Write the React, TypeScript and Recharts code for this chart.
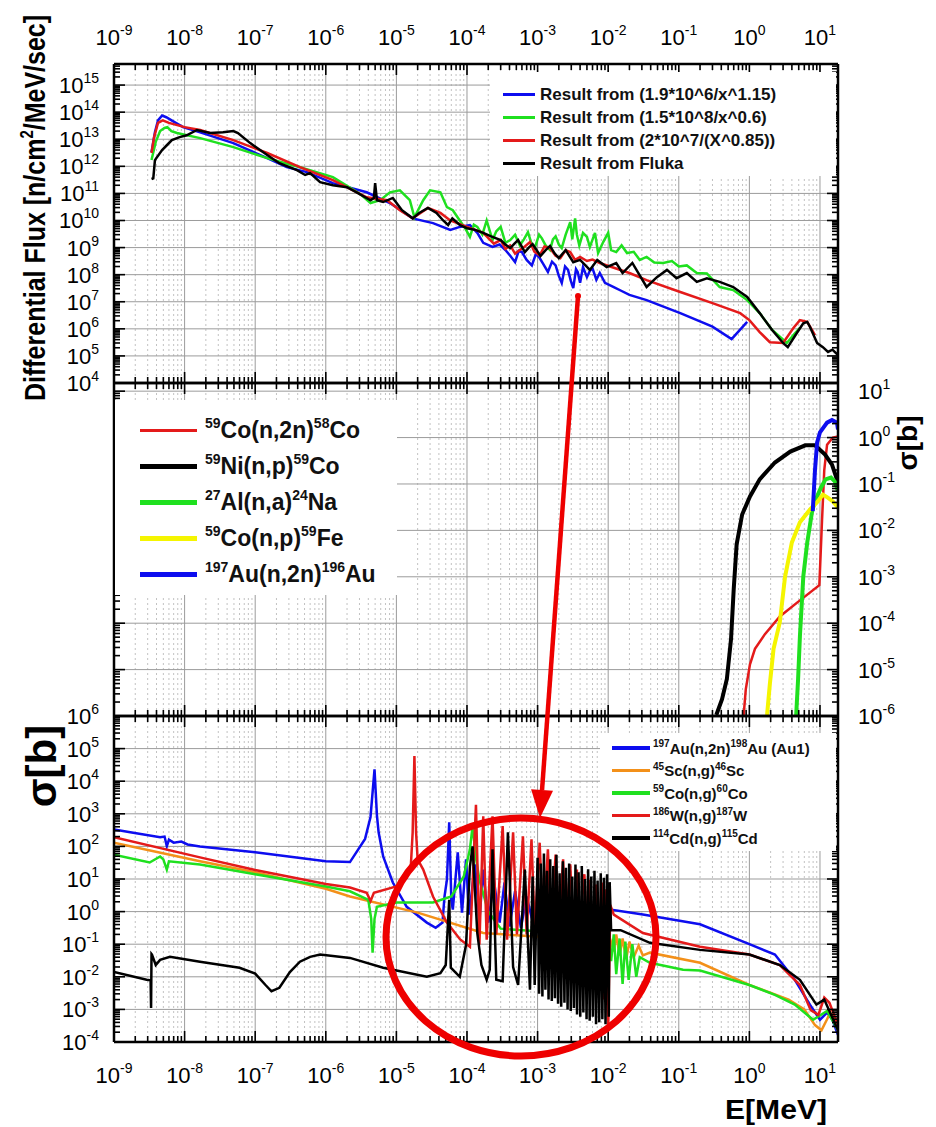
import React from 'react'
import { LineChart, Line, XAxis, YAxis, CartesianGrid, Legend } from 'recharts'

type Pt = [number, number]
type Side = 'top' | 'bottom' | 'left' | 'right'
type Part = [string, string] // [superscript, text]

const FONT = '"Liberation Sans", Arial, Helvetica, sans-serif'
const BLUE = '#0d0def'
const GREEN = '#1fe01f'
const RED = '#e41a1a'
const BLACK = '#000000'
const YELLOW = '#f5f500'
const ORANGE = '#f39019'

// energy axis [MeV], shared by the three panels
const E_RANGE: [number, number] = [1e-9, 18]
const E_EXP: [number, number] = [-9, 1]

// ---- differential flux [n/cm2/MeV/sec]
const FLUX_RANGE: [number, number] = [1e4, 6e15]
const FLUX_EXP: [number, number] = [4, 15]

const fluxBlue: Pt[] = [
  [3.4e-9, 3.3e12], [3.8e-9, 1.8e13], [4.2e-9, 5e13], [4.8e-9, 7.5e13], [5.5e-9, 6.5e13],
  [7e-9, 4.5e13], [9.5e-9, 2.8e13], [1.66e-8, 1.8e13], [4.9e-8, 7.2e12], [1.48e-7, 2e12],
  [2.8e-7, 9.3e11], [5.4e-7, 6.1e11], [1.26e-6, 2.4e11], [3.8e-6, 1.1e11], [8.1e-6, 4.4e10],
  [1.7e-5, 1.2e10], [3.3e-5, 8e9], [5.8e-5, 4.5e9], [7.9e-5, 5.8e9], [1.1e-4, 6.8e9],
  [1.4e-4, 3.5e9], [1.7e-4, 1.5e9], [2.3e-4, 1.05e9], [2.9e-4, 1.3e9], [3.5e-4, 8.1e8],
  [4.1e-4, 5e8], [4.8e-4, 2.9e8], [5.4e-4, 7.5e8], [6e-4, 6.8e8], [7e-4, 3.5e8],
  [8.3e-4, 2.2e8], [9.5e-4, 6e8], [1.07e-3, 4.1e8], [1.2e-3, 2.5e8], [1.4e-3, 1.26e8],
  [1.6e-3, 3e8], [1.8e-3, 2.2e8], [2e-3, 9e7], [2.2e-3, 4.9e7], [2.45e-3, 2e8],
  [2.7e-3, 1.5e8], [2.95e-3, 6e7], [3.2e-3, 3.2e7], [3.5e-3, 1.6e8], [3.7e-3, 1.26e8],
  [4e-3, 5e7], [4.4e-3, 1.9e8], [5e-3, 8.1e7], [5.5e-3, 1.4e8], [6e-3, 1.7e8],
  [6.8e-3, 6.5e7], [7.6e-3, 1.15e8], [9e-3, 5e7], [1.2e-2, 3.5e7], [1.5e-2, 2.6e7],
  [2e-2, 1.8e7], [3.5e-2, 1.15e7], [0.105, 3.8e6], [0.3, 1.2e6], [0.56, 4.2e5], [0.93, 1.8e6],
]

const fluxGreen: Pt[] = [
  [3.4e-9, 1.7e12], [3.9e-9, 8e12], [4.5e-9, 2e13], [5.2e-9, 2.6e13], [5.7e-9, 2.8e13],
  [6.5e-9, 2e13], [7.8e-9, 1.7e13], [1.66e-8, 1.1e13], [4.9e-8, 5.1e12], [1.48e-7, 2e12],
  [4.3e-7, 9.3e11], [1.26e-6, 4e11], [3e-6, 1e11], [4.3e-6, 4.4e10], [5.9e-6, 5.6e10],
  [8.1e-6, 1.1e11], [1.12e-5, 1.3e11], [1.55e-5, 5.6e10], [1.8e-5, 1.3e10], [2.4e-5, 5.6e10],
  [3e-5, 1.3e11], [4.2e-5, 1.1e11], [5.2e-5, 3.1e10], [6.3e-5, 2.4e10], [7.9e-5, 1e10],
  [9.5e-5, 5e9], [1.1e-4, 2.5e9], [1.25e-4, 7e9], [1.4e-4, 5.8e9], [1.65e-4, 3e9],
  [1.9e-4, 1e10], [2.3e-4, 1.9e9], [2.6e-4, 4e9], [3e-4, 5.8e9], [3.5e-4, 1.5e9],
  [4.1e-4, 1.9e9], [4.8e-4, 3e9], [5.6e-4, 1.2e9], [6.4e-4, 2e9], [7.3e-4, 3.7e9],
  [8.2e-4, 1.4e9], [9.1e-4, 9.5e8], [1.05e-3, 3e9], [1.15e-3, 2.2e9], [1.3e-3, 1.2e9],
  [1.5e-3, 8.1e8], [1.65e-3, 2e9], [1.8e-3, 2.6e9], [2e-3, 1.3e9], [2.2e-3, 9.5e8],
  [2.5e-3, 3e9], [2.9e-3, 8.7e9], [3.1e-3, 2e9], [3.4e-3, 1.2e10], [3.6e-3, 3e9],
  [3.9e-3, 1.2e9], [4.4e-3, 3.5e9], [5e-3, 2.5e9], [5.5e-3, 1.05e9], [6.5e-3, 3.5e9],
  [7.2e-3, 6.3e8], [8.5e-3, 1.6e9], [1e-2, 3.5e9], [1.1e-2, 8.1e8], [1.3e-2, 6.8e8],
  [1.55e-2, 1.2e9], [1.85e-2, 6.3e8], [2.3e-2, 7e8], [2.8e-2, 3.5e8], [3.5e-2, 4.5e8],
  [4.5e-2, 2.8e8], [6e-2, 2.7e8], [8e-2, 3.2e8], [0.1, 2e8], [0.13, 2.2e8],
  [0.18, 1.15e8], [0.25, 1.1e8], [0.38, 3.5e7], [0.59, 2.7e7], [0.93, 1.15e7],
  [1.4, 3.8e6], [2.1, 9.1e5], [3.4, 3e5], [4.2, 5.9e5], [5.2, 1.1e6],
]

const fluxRed: Pt[] = [
  [3.4e-9, 3.1e12], [3.7e-9, 1.2e13], [4.2e-9, 4e13], [4.9e-9, 5e13], [6e-9, 4e13],
  [1e-8, 2.8e13], [1.66e-8, 2.2e13], [4.9e-8, 9.3e12], [1.48e-7, 3.1e12], [4.3e-7, 9.3e11],
  [1.26e-6, 3.1e11], [3.8e-6, 7.2e10], [7.4e-6, 5.6e10], [1.12e-5, 2.4e10], [1.7e-5, 1.2e10],
  [2.8e-5, 2.9e10], [4.2e-5, 1.9e10], [5.8e-5, 1e10], [1e-4, 5.8e9], [1.7e-4, 3.5e9],
  [2.4e-4, 1.4e9], [3e-4, 1.9e9], [3.5e-4, 9e8], [4.1e-4, 1.2e9], [4.8e-4, 6e8],
  [5.6e-4, 8.1e8], [6.6e-4, 1.1e9], [7.8e-4, 1.6e9], [9e-4, 7e8], [1.07e-3, 5.2e8],
  [1.25e-3, 1.1e9], [1.5e-3, 9.5e8], [1.8e-3, 5e8], [2.1e-3, 4.1e8], [2.5e-3, 8e8],
  [2.9e-3, 6.8e8], [3.4e-3, 3.5e8], [4e-3, 4.5e8], [5e-3, 3.2e8], [6e-3, 3.6e8],
  [7.6e-3, 2.7e8], [1.2e-2, 1.8e8], [2e-2, 1.15e8], [3.5e-2, 6.3e7], [0.105, 2.3e7],
  [0.3, 8.9e6], [0.74, 3.8e6], [1.0, 2.1e6], [1.4, 7.6e5], [1.95, 3.2e5],
  [3.0, 3e5], [4.2, 1.07e6], [5.2, 2.1e6], [6.6, 1.8e6], [8.5, 5.9e5],
]

const fluxFluka: Pt[] = [
  [3.4e-9, 3.4e11], [3.6e-9, 3.6e11], [3.8e-9, 1.7e12], [4.8e-9, 4e12], [5.6e-9, 6e12],
  [6.6e-9, 9.3e12], [8.5e-9, 1.2e13], [1.07e-8, 1.4e13], [1.5e-8, 2.2e13], [2.3e-8, 1.7e13],
  [3.5e-8, 1.8e13], [4.9e-8, 2e13], [5.7e-8, 1.7e13], [8.5e-8, 7.2e12], [1.48e-7, 2.6e12],
  [2.2e-7, 1.3e12], [3.9e-7, 7.2e11], [5.1e-7, 4.8e11], [6e-7, 5.6e11], [8.3e-7, 2.6e11],
  [1.26e-6, 2e11], [2e-6, 1.7e11], [2.9e-6, 1e11], [4.3e-6, 5.6e10], [4.8e-6, 6.8e10],
  [5e-6, 2.4e11], [5.3e-6, 5.6e10], [6.5e-6, 4.8e10], [8.9e-6, 6.8e10], [1.2e-5, 2.4e10],
  [1.7e-5, 1.2e10], [2.1e-5, 1.9e10], [2.8e-5, 2.9e10], [3.7e-5, 1.9e10], [4.6e-5, 1e10],
  [5.4e-5, 6.8e9], [6.2e-5, 1.2e10], [7.9e-5, 6.8e9], [1e-4, 5.2e9], [1.3e-4, 4.5e9],
  [1.7e-4, 3.5e9], [2.2e-4, 2.6e9], [3e-4, 1.9e9], [3.5e-4, 1.3e9], [4.1e-4, 9.5e8],
  [4.7e-4, 1.4e9], [5.3e-4, 1.9e9], [6.6e-4, 6.8e8], [7.5e-4, 1e9], [8.5e-4, 1.35e9],
  [1.1e-3, 4.9e8], [1.3e-3, 8e8], [1.5e-3, 1.15e9], [1.75e-3, 6e8], [2e-3, 4.1e8],
  [2.5e-3, 8.1e8], [3.2e-3, 2.9e8], [4e-3, 3.5e8], [5.5e-3, 1.5e8], [7e-3, 3.5e8],
  [9.5e-3, 1.9e8], [1.3e-2, 2.7e8], [1.6e-2, 1.15e8], [2.2e-2, 2.7e8], [3.5e-2, 3.5e7],
  [4.9e-2, 8.1e7], [6.8e-2, 1.5e8], [9.3e-2, 7.4e7], [0.13, 1.15e8], [0.18, 5.4e7],
  [0.25, 7.4e7], [0.38, 5.4e7], [0.59, 3.5e7], [0.93, 1.5e7], [1.4, 3.8e6],
  [2.1, 9.1e5], [3.0, 3e5], [3.5, 2.1e5], [4.7, 7e5], [5.8, 1.6e6],
  [6.6, 1.8e6], [7.2, 1.2e6], [9.1, 3e5], [11, 2.1e5], [13, 1.4e5],
  [15, 1.7e5], [18, 1.07e5],
]

// ---- threshold reactions, sigma [b]
const XS_RANGE: [number, number] = [1e-6, 15]
const XS_EXP: [number, number] = [-6, 1]

const co59n2n: Pt[] = [
  [0.83, 1.05e-6], [0.89, 3.8e-6], [1.02, 1.3e-5], [1.2, 2.8e-5], [1.66, 5.8e-5],
  [2.7, 1.4e-4], [5.2, 3.1e-4], [9.8, 6.6e-4], [10.7, 1.7e-2], [11.5, 0.2],
  [12.6, 0.7], [15.2, 1.0], [18, 1.05],
]
const ni59np: Pt[] = [
  [0.34, 1.05e-6], [0.41, 2.3e-6], [0.48, 6.3e-6], [0.55, 4.6e-5], [0.6, 5.4e-4],
  [0.66, 5e-3], [0.79, 2.2e-2], [1.02, 5.4e-2], [1.4, 0.126], [2.3, 0.29],
  [3.8, 0.5], [6.2, 0.68], [8.5, 0.68], [11.8, 0.43], [14.8, 0.26], [18, 0.107],
]
const al27na: Pt[] = [
  [4.6, 1.05e-6], [4.9, 6.3e-6], [5.2, 5.3e-5], [5.8, 1e-3], [6.6, 5.5e-3],
  [7.8, 2.8e-2], [9.1, 5.4e-2], [10.3, 8.3e-2], [12, 0.126], [14.3, 0.138],
  [16.3, 0.112], [18, 6.9e-2],
]
const co59np: Pt[] = [
  [1.78, 1.05e-6], [1.95, 4.9e-6], [2.2, 2.8e-5], [2.7, 1.05e-4], [3.2, 1e-3],
  [4.0, 5.5e-3], [5.2, 1.5e-2], [7.2, 2.8e-2], [9.3, 4.2e-2], [11, 5.9e-2],
  [12.9, 5.1e-2], [15.2, 4.2e-2], [18, 3.1e-2],
]
const au197n2n: Pt[] = [
  [7.9, 2.6e-2], [8.5, 0.2], [9.1, 0.78], [10, 1.3], [12.6, 2.1],
  [14.8, 2.4], [17.4, 2.1], [18, 1.5],
]

// ---- capture reactions, sigma [b]
const CAP_RANGE: [number, number] = [1e-4, 1e6]
const CAP_EXP: [number, number] = [-4, 6]

const au197: Pt[] = [
  [1e-9, 330], [1.7e-9, 270], [4.5e-9, 190], [5.2e-9, 200], [5.6e-9, 100],
  [6e-9, 160], [7e-9, 130], [9e-9, 140], [1.1e-8, 115], [1.65e-8, 100],
  [1e-7, 66], [1e-6, 35], [2.2e-6, 33], [3.6e-6, 170], [4.3e-6, 800],
  [4.9e-6, 2.3e4], [5.3e-6, 900], [5.6e-6, 270], [6.5e-6, 49], [8.9e-6, 7.8],
  [1.4e-5, 1.4], [2.7e-5, 0.46], [3.6e-5, 0.32], [4.5e-5, 0.46], [4.8e-5, 2.9],
  [5.2e-5, 9.5], [5.6e-5, 550], [6e-5, 2.3], [6.3e-5, 1.15], [7.4e-5, 66],
  [8.5e-5, 0.93], [9.7e-5, 40], [1.07e-4, 0.81], [1.3e-4, 28], [1.5e-4, 0.56],
  [1.7e-4, 19.5], [2e-4, 0.46], [2.4e-4, 9.5], [2.9e-4, 0.46], [3.4e-4, 7.8],
  [4e-4, 0.35], [4.8e-4, 4.2], [5.8e-4, 0.32], [7e-4, 2.9], [9e-4, 0.3],
  [1.2e-3, 1.9], [1.6e-3, 0.28], [2.2e-3, 1.4], [3e-3, 0.35], [4.5e-3, 0.8],
  [7e-3, 0.5], [1.07e-2, 1.15], [3.1e-2, 0.81], [0.2, 0.41], [1.0, 0.1],
  [2.3, 0.048], [4.4, 8.1e-3], [7.2, 1.4e-3], [10, 4.8e-4], [12.6, 8e-4],
  [15, 4.8e-4], [18, 1.65e-4],
]
const sc45: Pt[] = [
  [1e-9, 130], [1.65e-8, 35], [1e-7, 16], [1e-6, 5], [2.2e-6, 2.9],
  [2e-5, 0.93], [1.7e-4, 0.22], [1.07e-3, 0.17], [1.07e-2, 0.14], [1.2e-2, 0.06],
  [1.3e-2, 0.2], [1.45e-2, 0.045], [1.6e-2, 0.15], [1.8e-2, 0.035], [2e-2, 0.12],
  [2.3e-2, 0.04], [2.7e-2, 0.09], [3.1e-2, 0.045], [3.9e-2, 0.055], [0.2, 0.027],
  [1.0, 5.6e-3], [3.6, 2e-3], [6, 1e-3], [8.5, 3.3e-4], [10.5, 2.3e-4],
  [12.6, 5e-4], [14, 8e-4], [18, 2.3e-4],
]
const co59: Pt[] = [
  [1e-9, 56], [3.2e-9, 32], [4.5e-9, 49], [5e-9, 40], [5.6e-9, 19.5],
  [6e-9, 35], [1.65e-8, 28], [1e-7, 14], [1e-6, 5.9], [2.2e-6, 4.2],
  [4e-6, 2.3], [4.4e-6, 0.6], [4.6e-6, 0.055], [4.9e-6, 0.6], [5.3e-6, 1.4],
  [1e-5, 1.9], [3.3e-5, 1.9], [6e-5, 2.9], [9e-5, 12], [1.1e-4, 81],
  [1.2e-4, 420], [1.35e-4, 40], [1.5e-4, 9.5], [2e-4, 1.0], [3e-4, 0.3],
  [1e-3, 0.25], [1e-2, 0.22], [1.1e-2, 0.03], [1.2e-2, 0.2], [1.3e-2, 0.012],
  [1.45e-2, 0.15], [1.6e-2, 0.006], [1.75e-2, 0.12], [1.95e-2, 0.008], [2.2e-2, 0.1],
  [2.5e-2, 0.01], [2.8e-2, 0.04], [3.9e-2, 0.027], [0.115, 0.0165], [0.2, 0.0155],
  [1.0, 5.6e-3], [2.3, 2.8e-3], [4.4, 1.4e-3], [8, 4.8e-4], [12.6, 9e-4], [18, 2.3e-4],
]
const w186: Pt[] = [
  [1e-9, 190], [1.65e-8, 46], [1e-7, 19], [1e-6, 7], [2.2e-6, 5.5],
  [3.8e-6, 3.8], [4.3e-6, 2.1], [4.8e-6, 3.8], [1e-5, 5.9], [1.4e-5, 11],
  [1.6e-5, 24], [1.7e-5, 270], [1.8e-5, 5.9e4], [1.9e-5, 270], [2e-5, 40],
  [2.4e-5, 19.5], [3.3e-5, 2.9], [5.2e-5, 0.46], [8e-5, 0.14], [1.1e-4, 0.083],
  [1.34e-4, 1.9e3], [1.5e-4, 0.096], [1.7e-4, 840], [1.9e-4, 0.138], [2.3e-4, 840],
  [2.6e-4, 0.2], [3.2e-4, 420], [3.7e-4, 0.138], [4.5e-4, 270], [5.1e-4, 0.2],
  [6.2e-4, 205], [7e-4, 0.2], [8.2e-4, 165], [9.1e-4, 0.27], [1.07e-3, 130],
  [1.2e-3, 0.3], [1.4e-3, 81], [1.55e-3, 0.3], [1.8e-3, 56], [2e-3, 0.4],
  [2.3e-3, 40], [2.5e-3, 0.3], [2.9e-3, 28], [3.2e-3, 0.27], [3.6e-3, 19.5],
  [3.9e-3, 0.27], [4.6e-3, 14], [5e-3, 0.2], [5.5e-3, 9.5], [6.1e-3, 0.138],
  [6.7e-3, 6.8], [7.4e-3, 0.067], [8.1e-3, 7.8], [8.7e-3, 0.002], [9.3e-3, 4.8],
  [1e-2, 2.3e-4], [1.07e-2, 1.6], [1.2e-2, 0.81], [3.1e-2, 0.22], [0.2, 0.083],
  [1.0, 0.048], [2.7, 0.023], [5.2, 5.6e-3], [7.4, 9.5e-4], [9.5, 6.8e-4],
  [11.5, 2.3e-3], [13.6, 1.6e-3], [18, 3.3e-4],
]
const cd114: Pt[] = [
  [1e-9, 0.014], [2.9e-9, 8.1e-3], [3.3e-9, 7.8e-3], [3.35e-9, 1.1e-3], [3.4e-9, 0.05],
  [3.45e-9, 0.048], [3.9e-9, 0.023], [4.5e-9, 0.033], [6.2e-9, 0.041], [1.65e-8, 0.029],
  [6e-8, 0.019], [1e-7, 0.0125], [1.4e-7, 0.0056], [1.7e-7, 3.6e-3], [2.2e-7, 4.6e-3],
  [3.1e-7, 0.014], [4.3e-7, 0.029], [6e-7, 0.041], [8.3e-7, 0.048], [2.2e-6, 0.038],
  [6.5e-6, 0.019], [2.7e-5, 0.01], [4.2e-5, 0.013], [5e-5, 0.023], [5.6e-5, 2.3],
  [5.9e-5, 0.019], [7.9e-5, 0.01], [9.7e-5, 0.096], [1.1e-4, 24], [1.2e-4, 100],
  [1.4e-4, 0.22], [1.6e-4, 0.023], [1.9e-4, 8.1e-3], [2.1e-4, 0.0165], [2.3e-4, 81],
  [2.6e-4, 8.1e-3], [3.2e-4, 7.3e-3], [3.8e-4, 270], [4.5e-4, 0.02], [5.3e-4, 5.6e-3],
  [6.6e-4, 19.5], [7.8e-4, 4e-3], [8.5e-4, 12], [9.1e-4, 5.6e-3],
  // unresolved-looking band, 1 keV to 10 keV
  [1e-3, 45], [1.05e-3, 3e-3], [1.11e-3, 30], [1.17e-3, 2.5e-3], [1.23e-3, 60],
  [1.29e-3, 4e-3], [1.36e-3, 18], [1.43e-3, 2e-3], [1.51e-3, 40], [1.59e-3, 1.8e-3],
  [1.67e-3, 25], [1.76e-3, 2.2e-3], [1.85e-3, 55], [1.95e-3, 1.5e-3], [2.05e-3, 15],
  [2.16e-3, 1.2e-3], [2.28e-3, 35], [2.4e-3, 1.6e-3], [2.52e-3, 22], [2.66e-3, 1e-3],
  [2.8e-3, 30], [2.95e-3, 9e-4], [3.1e-3, 12], [3.27e-3, 1.1e-3], [3.44e-3, 28],
  [3.62e-3, 7e-4], [3.81e-3, 16], [4.02e-3, 6e-4], [4.23e-3, 25], [4.45e-3, 8e-4],
  [4.69e-3, 10], [4.94e-3, 5e-4], [5.2e-3, 20], [5.47e-3, 4.5e-4], [5.76e-3, 12],
  [6.07e-3, 6e-4], [6.39e-3, 18], [6.73e-3, 3.5e-4], [7.08e-3, 9], [7.46e-3, 4e-4],
  [7.85e-3, 15], [8.27e-3, 5e-4], [8.71e-3, 11], [9.17e-3, 3.5e-4], [9.65e-3, 14],
  [1.02e-2, 6e-4], [1.05e-2, 8],
  [1.1e-2, 0.27], [1.5e-2, 0.27], [3.9e-2, 0.11], [0.2, 0.067], [1.0, 0.048],
  [2.7, 0.023], [5.2, 8.1e-3], [8.9, 1.4e-3], [11.5, 2e-3], [18, 2.3e-4],
]

interface Series { name: string; data: Pt[]; color: string; width: number }
interface KeyItem { color: string; width: number; parts: Part[] }

const fluxSeries: Series[] = [
  { name: 'fit115', data: fluxBlue, color: BLUE, width: 2.5 },
  { name: 'fit06', data: fluxGreen, color: GREEN, width: 2.5 },
  { name: 'fit085', data: fluxRed, color: RED, width: 2.5 },
  { name: 'fluka', data: fluxFluka, color: BLACK, width: 2.5 },
]
const fluxKey: KeyItem[] = [
  { color: BLUE, width: 3, parts: [['', 'Result from (1.9*10^6/x^1.15)']] },
  { color: GREEN, width: 3, parts: [['', 'Result from (1.5*10^8/x^0.6)']] },
  { color: RED, width: 3, parts: [['', 'Result from (2*10^7/(X^0.85))']] },
  { color: BLACK, width: 3, parts: [['', 'Result from Fluka']] },
]

const xsSeries: Series[] = [
  { name: 'co59n2n', data: co59n2n, color: RED, width: 2.5 },
  { name: 'ni59np', data: ni59np, color: BLACK, width: 4 },
  { name: 'al27na', data: al27na, color: GREEN, width: 4 },
  { name: 'co59np', data: co59np, color: YELLOW, width: 4 },
  { name: 'au197n2n', data: au197n2n, color: BLUE, width: 4 },
]
const xsKey: KeyItem[] = [
  { color: RED, width: 3, parts: [['59', 'Co(n,2n)'], ['58', 'Co']] },
  { color: BLACK, width: 5, parts: [['59', 'Ni(n,p)'], ['59', 'Co']] },
  { color: GREEN, width: 5, parts: [['27', 'Al(n,a)'], ['24', 'Na']] },
  { color: YELLOW, width: 5, parts: [['59', 'Co(n,p)'], ['59', 'Fe']] },
  { color: BLUE, width: 5, parts: [['197', 'Au(n,2n)'], ['196', 'Au']] },
]

const capSeries: Series[] = [
  { name: 'au197', data: au197, color: BLUE, width: 2.5 },
  { name: 'sc45', data: sc45, color: ORANGE, width: 2.5 },
  { name: 'co59', data: co59, color: GREEN, width: 2.5 },
  { name: 'w186', data: w186, color: RED, width: 2.5 },
  { name: 'cd114', data: cd114, color: BLACK, width: 2.5 },
]
const capKey: KeyItem[] = [
  { color: BLUE, width: 3.5, parts: [['197', 'Au(n,2n)'], ['198', 'Au (Au1)']] },
  { color: ORANGE, width: 3.5, parts: [['45', 'Sc(n,g)'], ['46', 'Sc']] },
  { color: GREEN, width: 3.5, parts: [['59', 'Co(n,g)'], ['60', 'Co']] },
  { color: RED, width: 3.5, parts: [['186', 'W(n,g)'], ['187', 'W']] },
  { color: BLACK, width: 3.5, parts: [['114', 'Cd(n,g)'], ['115', 'Cd']] },
]

// decade ticks (majors) plus 2..9 in between (minors)
function decades([lo, hi]: [number, number], max = Infinity) {
  const major: number[] = []
  const minor: number[] = []
  for (let k = lo; k <= hi; k++) {
    major.push(Number(`1e${k}`))
    for (let m = 2; m <= 9; m++) {
      const v = Number(`${m}e${k}`)
      if (v <= max) minor.push(v)
    }
  }
  return { major, minor, all: [...major, ...minor].sort((a, b) => a - b) }
}
type Ticks = ReturnType<typeof decades>

const eTicks = decades(E_EXP, E_RANGE[1])
const toXY = (pts: Pt[]) => pts.map(([x, y]) => ({ x, y }))

function Pow({ x, y, exp, anchor }: { x: number; y: number; exp: number; anchor: string }) {
  return (
    <text x={x} y={y} textAnchor={anchor} fontFamily={FONT} fontSize={22} fill="#000">
      <tspan>10</tspan>
      <tspan fontSize={14} dy={-10}>{String(exp)}</tspan>
    </text>
  )
}

const INWARD: Record<Side, [number, number]> = { top: [0, 1], bottom: [0, -1], left: [1, 0], right: [-1, 0] }

// inward tick marks, with 10^n labels on the labelled sides
function tickFor(side: Side, labelled: boolean) {
  return (p: any) => {
    const { x, y } = p
    const v: number = p.payload.value
    const exp = Math.round(Math.log10(v))
    const major = Math.abs(v / Number(`1e${exp}`) - 1) < 1e-9
    const len = major ? 11 : 6
    const [dx, dy] = INWARD[side]
    let label = null
    if (labelled && major) {
      if (side === 'top') label = <Pow x={x} y={y - 19} exp={exp} anchor="middle" />
      if (side === 'bottom') label = <Pow x={x} y={y + 41} exp={exp} anchor="middle" />
      if (side === 'left') label = <Pow x={x - 15} y={y + 8} exp={exp} anchor="end" />
      if (side === 'right') label = <Pow x={x + 20} y={y + 8} exp={exp} anchor="start" />
    }
    return (
      <g>
        <line x1={x} y1={y} x2={x + dx * len} y2={y + dy * len} stroke="#000" strokeWidth={1.6} />
        {label}
      </g>
    )
  }
}

function KeyBox({ items, font, sup, rowH, pad, lineW, gap }: {
  items: KeyItem[]; font: number; sup: number; rowH: number; pad: [number, number]; lineW: number; gap: number
}) {
  return (
    <div style={{ background: '#fff', width: '100%', height: '100%', boxSizing: 'border-box', padding: `${pad[0]}px 0 0 ${pad[1]}px` }}>
      {items.map((it, i) => (
        <div key={i} style={{ display: 'flex', alignItems: 'center', height: rowH, whiteSpace: 'nowrap' }}>
          <span style={{ display: 'inline-block', width: lineW, height: it.width, background: it.color }} />
          <span style={{ marginLeft: gap, fontFamily: FONT, fontWeight: 700, fontSize: font, lineHeight: 1, color: '#111' }}>
            {it.parts.map(([s, t], j) => (
              <React.Fragment key={j}>
                {s && <span style={{ fontSize: sup, position: 'relative', top: -font * 0.42 }}>{s}</span>}
                {t}
              </React.Fragment>
            ))}
          </span>
        </div>
      ))}
    </div>
  )
}

const axisBase = {
  type: 'number' as const,
  scale: 'log' as const,
  allowDataOverflow: true,
  interval: 0 as const,
  tickLine: false,
  tickSize: 0,
  tickMargin: 0,
  axisLine: { stroke: '#000', strokeWidth: 2.5 },
}

interface PanelProps {
  top: number
  height: number
  axisH: [number, number]
  yRange: [number, number]
  yTicks: Ticks
  labelled: Side[]
  series: Series[]
  leftTitle?: () => React.ReactElement
  rightTitle?: () => React.ReactElement
  bottomTitle?: () => React.ReactElement
  legend: React.ReactElement
  legendBox: React.CSSProperties
}

function Panel(props: PanelProps) {
  const { top, height, axisH, yRange, yTicks, labelled, series, leftTitle, rightTitle, bottomTitle, legend, legendBox } = props
  const has = (s: Side) => labelled.includes(s)
  return (
    <div style={{ position: 'absolute', left: 0, top }}>
      <LineChart width={936} height={height} margin={{ top: 0, right: 0, bottom: 0, left: 0 }}>
        <CartesianGrid xAxisId="b" yAxisId="l" horizontal={false} verticalValues={eTicks.minor}
          stroke="#c2c2c2" strokeDasharray="2 3" />
        <CartesianGrid xAxisId="b" yAxisId="l" verticalValues={eTicks.major} horizontalValues={yTicks.major}
          stroke="#9b9b9b" />
        <XAxis xAxisId="t" orientation="top" height={axisH[0]} dataKey="x" domain={E_RANGE}
          ticks={eTicks.all} tick={tickFor('top', has('top'))} {...axisBase} />
        <XAxis xAxisId="b" orientation="bottom" height={axisH[1]} dataKey="x" domain={E_RANGE}
          ticks={eTicks.all} tick={tickFor('bottom', has('bottom'))} label={bottomTitle} {...axisBase} />
        <YAxis yAxisId="l" orientation="left" width={114} domain={yRange}
          ticks={yTicks.all} tick={tickFor('left', has('left'))} label={leftTitle} {...axisBase} />
        <YAxis yAxisId="r" orientation="right" width={98} domain={yRange}
          ticks={yTicks.all} tick={tickFor('right', has('right'))} label={rightTitle} {...axisBase} />
        {series.map(s => (
          <Line key={s.name} name={s.name} xAxisId="b" yAxisId="l" data={toXY(s.data)} dataKey="y"
            type="linear" stroke={s.color} strokeWidth={s.width} dot={false} activeDot={false}
            isAnimationActive={false} />
        ))}
        <Legend layout="vertical" align="center" verticalAlign="middle" wrapperStyle={legendBox}
          content={() => legend} />
      </LineChart>
    </div>
  )
}

// flux title: natural glyph widths, stretched across the baseline to get the tall bold look
const fluxTitle = () => (
  <g transform="translate(45 208) rotate(-90) scale(1 1.18)">
    <text x={0} y={0} textAnchor="middle" fontFamily={FONT} fontWeight={700} fontSize={25} fill="#000">
      Differential Flux [n/cm<tspan fontSize={15} dy={-10}>2</tspan><tspan dy={10}>/MeV/sec]</tspan>
    </text>
  </g>
)
const xsTitle = () => (
  <text x={917} y={61} transform="rotate(-90 917 61)" textAnchor="middle" fontFamily={FONT}
    fontWeight={700} fontSize={28} fill="#000">σ[b]</text>
)
const capTitle = () => (
  <text x={56} y={51} transform="rotate(-90 56 51)" textAnchor="middle" fontFamily={FONT}
    fontWeight={700} fontSize={42} fill="#000">σ[b]</text>
)
const energyTitle = () => (
  <text x={725} y={404} fontFamily={FONT} fontWeight={700} fontSize={28} textLength={102}
    lengthAdjust="spacingAndGlyphs" fill="#000">E[MeV]</text>
)

// hand-drawn callout: arrow from the flux curve down to the circled resonance region
function Callout() {
  const from = [578, 296]
  const tip = [540, 818]
  const len = Math.hypot(tip[0] - from[0], tip[1] - from[1])
  const ux = (tip[0] - from[0]) / len
  const uy = (tip[1] - from[1]) / len
  const bx = tip[0] - ux * 28
  const by = tip[1] - uy * 28
  const head = `${tip[0]},${tip[1]} ${bx - uy * 11},${by + ux * 11} ${bx + uy * 11},${by - ux * 11}`
  return (
    <svg width={936} height={1127} style={{ position: 'absolute', left: 0, top: 0, pointerEvents: 'none' }}>
      <circle cx={from[0]} cy={from[1]} r={3} fill="#ee0000" />
      <line x1={from[0]} y1={from[1]} x2={bx} y2={by} stroke="#ee0000" strokeWidth={4.5} />
      <polygon points={head} fill="#ee0000" />
      <ellipse cx={521} cy={937} rx={135} ry={119} fill="none" stroke="#ee0000" strokeWidth={7} />
    </svg>
  )
}

export default function App() {
  return (
    <div style={{ position: 'absolute', left: 0, top: 0, width: 936, height: 1127, background: '#fff', overflow: 'hidden' }}>
      <style>{'.recharts-surface{overflow:visible}'}</style>
      <Panel top={0} height={384} axisH={[64, 1]} yRange={FLUX_RANGE} yTicks={decades(FLUX_EXP, FLUX_RANGE[1])}
        labelled={['top', 'left']} series={fluxSeries} leftTitle={fluxTitle}
        legendBox={{ left: 490, top: 72, width: 346, height: 104 }}
        legend={<KeyBox items={fluxKey} font={17} sup={11} rowH={22.7} pad={[11.6, 13]} lineW={32} gap={5} />} />
      <Panel top={382} height={335} axisH={[1, 1]} yRange={XS_RANGE} yTicks={decades(XS_EXP, XS_RANGE[1])}
        labelled={['right']} series={xsSeries} rightTitle={xsTitle}
        legendBox={{ left: 115, top: 18, width: 282, height: 195 }}
        legend={<KeyBox items={xsKey} font={23} sup={14} rowH={36} pad={[12, 25]} lineW={57} gap={8} />} />
      <Panel top={715} height={412} axisH={[1, 85]} yRange={CAP_RANGE} yTicks={decades(CAP_EXP, CAP_RANGE[1])}
        labelled={['left', 'bottom']} series={capSeries} leftTitle={capTitle} bottomTitle={energyTitle}
        legendBox={{ left: 600, top: 18, width: 236, height: 118 }}
        legend={<KeyBox items={capKey} font={15} sup={10} rowH={22.5} pad={[3.75, 12]} lineW={38} gap={3} />} />
      <Callout />
    </div>
  )
}
